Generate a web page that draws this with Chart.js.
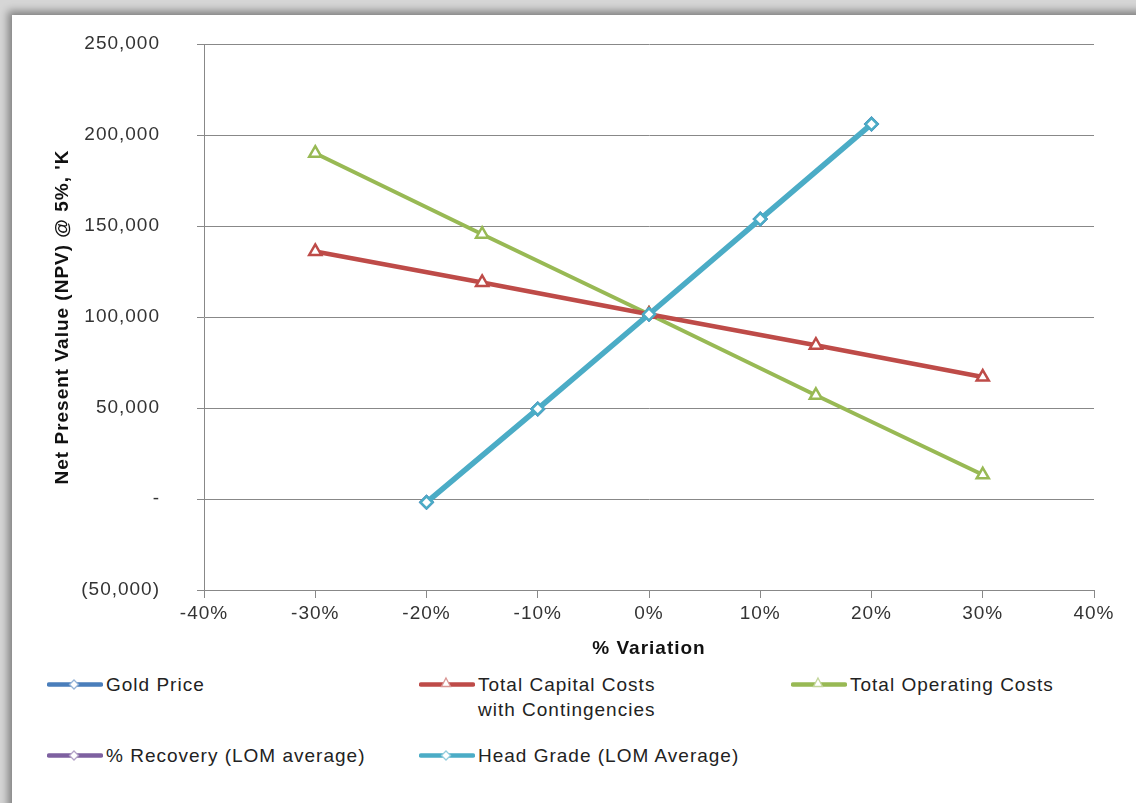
<!DOCTYPE html>
<html>
<head>
<meta charset="utf-8">
<script src="https://cdn.jsdelivr.net/npm/chart.js@4.4.1/dist/chart.umd.min.js"></script>
<style>
  html, body { margin: 0; padding: 0; }
  body { width: 1136px; height: 803px; overflow: hidden; background: #d6d6d6; position: relative; font-family: "Liberation Sans", Arial, sans-serif; }
  .frame { position: absolute; left: 12px; top: 15px; width: 1200px; height: 900px; background: #fff; box-shadow: -3px -3px 8px 1px rgba(0,0,0,0.4); }
  #chart { position: absolute; left: 0; top: 0; }
  #legend { position: absolute; left: 47px; top: 672px; display: grid; grid-template-columns: 372px 372px 372px; grid-auto-rows: 71px; }
  .item { display: flex; align-items: flex-start; font-size: 19px; line-height: 25px; letter-spacing: 1px; color: #222; }
  .item svg { flex: none; margin-right: 3px; }
</style>
</head>
<body>
<div class="frame"></div>
<canvas id="chart" width="1136" height="665"></canvas>
<div id="legend"></div>
<script>
// x values (% variation) for each group of series
const costX = [-30, -15, 0, 15, 30];
const gradeX = [-20, -10, 0, 10, 20];

// NPV @ 5%, 'K
const goldPrice = [-1800, 49500, 101500, 153800, 206000];
const capitalCosts = [136000, 119000, 101500, 84500, 67000];
const operatingCosts = [190000, 145500, 101500, 57000, 13300];
const recovery = [-1800, 49500, 101500, 153800, 206000];
const headGrade = [-1800, 49500, 101500, 153800, 206000];

const seriesNames = ['Gold Price', ['Total Capital Costs', 'with Contingencies'], 'Total Operating Costs',
  '% Recovery (LOM average)', 'Head Grade (LOM Average)'];
const seriesColors = ['#4A7EBB', '#BE4B48', '#98B954', '#7D60A0', '#4BACC6'];
const markerColors = ['#95B3D7', '#D99694', '#C3D69B', '#B3A2C7', '#93CDDD'];
const markers = ['rectRot', 'triangle', 'triangle', 'rectRot', 'rectRot'];

const xTicks = [-40, -30, -20, -10, 0, 10, 20, 30, 40];

function pairs(xs, ys) {
  return xs.map((x, i) => ({ x: x, y: ys[i] }));
}

function makeSet(i, xs, ys, width, order) {
  return {
    label: Array.isArray(seriesNames[i]) ? seriesNames[i].join(' ') : seriesNames[i],
    data: pairs(xs, ys),
    borderColor: seriesColors[i],
    borderWidth: width,
    pointStyle: markers[i],
    pointRadius: markers[i] === 'triangle' ? 7 : 6,
    pointBorderWidth: 2.5,
    pointBackgroundColor: '#fff',
    pointBorderColor: seriesColors[i],
    order: order
  };
}

//letter spacing to mimic the original text
const spacing = {
  id: 'spacing',
  beforeLayout(c) { c.ctx.letterSpacing = '1px'; },
  beforeDraw(c) { c.ctx.letterSpacing = '1px'; }
};

const tickFont = { family: '"Liberation Sans", Arial, sans-serif', size: 19 };
const titleFont = { family: '"Liberation Sans", Arial, sans-serif', size: 19, weight: 'bold' };

const ctx = document.getElementById('chart').getContext('2d');
const chart = new Chart(ctx, {
  type: 'line',
  data: {
    datasets: [
      makeSet(0, gradeX, goldPrice, 3, 3),
      makeSet(1, costX, capitalCosts, 4.5, 1),
      makeSet(2, costX, operatingCosts, 4, 2),
      makeSet(3, gradeX, recovery, 3, 4),
      makeSet(4, gradeX, headGrade, 5.5, 0)
    ]
  },
  options: {
    responsive: false,
    animation: false,
    layout: { padding: { left: 47, right: 42, top: 44, bottom: 0 } },
    plugins: { legend: { display: false }, tooltip: { enabled: false } },
    scales: {
      x: {
        type: 'linear',
        min: -40,
        max: 40,
        afterBuildTicks: (s) => { s.ticks = xTicks.map(v => ({ value: v })); },
        afterFit: (s) => { s.height = 75; },
        grid: { drawOnChartArea: false, tickLength: 8, color: '#888' },
        border: { color: '#888' },
        ticks: { font: tickFont, color: '#333', padding: 4, maxRotation: 0, callback: (v) => v + '%' },
        title: { display: true, text: '% Variation', font: titleFont, color: '#111', padding: { top: 4, bottom: 5 } }
      },
      y: {
        min: -50000,
        max: 250000,
        afterFit: (s) => { s.width = 157; s.paddingTop = 12; s.paddingBottom = 12; },
        grid: { color: '#888', tickLength: 7 },
        border: { color: '#888' },
        ticks: {
          stepSize: 50000,
          font: tickFont,
          color: '#333',
          padding: 37,
          callback: function (v) {
            if (v === 0) return '-';
            const s = Math.abs(v).toLocaleString('en-US');
            return v < 0 ? '(' + s + ')' : s;
          }
        },
        title: { display: true, text: "Net Present Value (NPV) @ 5%, 'K", font: titleFont, color: '#111', padding: { top: 4, bottom: 4 } }
      }
    }
  },
  plugins: [spacing]
});

//HTML legend
const legend = document.getElementById('legend');
seriesNames.forEach((n, i) => {
  const item = document.createElement('div');
  item.className = 'item';
  let mark;
  if (markers[i] === 'triangle') {
    mark = '<polygon points="27,6 31.5,14.5 22.5,14.5" fill="#fff" stroke="' + markerColors[i] + '" stroke-width="1.3"/>';
  } else {
    mark = '<polygon points="27,8 31.5,12.5 27,17 22.5,12.5" fill="#fff" stroke="' + markerColors[i] + '" stroke-width="1.3"/>';
  }
  const svg = '<svg width="56" height="25"><line x1="2" y1="12.5" x2="54" y2="12.5" stroke="' + seriesColors[i] +
    '" stroke-width="4.5" stroke-linecap="round"/>' + mark + '</svg>';
  const name = Array.isArray(n) ? n.join('<br>') : n;
  item.innerHTML = svg + '<span>' + name + '</span>';
  legend.appendChild(item);
});
</script>
</body>
</html>
